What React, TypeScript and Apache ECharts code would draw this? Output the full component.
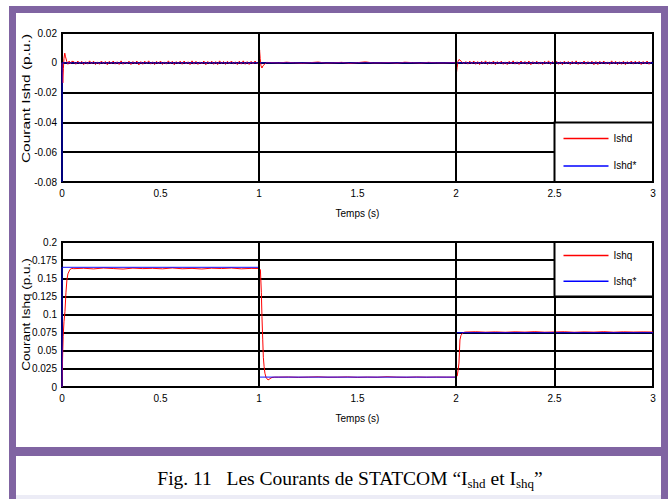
import React, { useEffect, useRef } from 'react';
import * as echarts from 'echarts';

// ---------- axes ----------
const xTickLabels = ['0', '0.5', '1', '1.5', '2', '2.5', '3'];
const xMin = 0, xMax = 3, xStep = 0.5;
const ishdMin = -0.08, ishdMax = 0.02, ishdStep = 0.02;
const ishqMin = 0, ishqMax = 0.2, ishqStep = 0.025;
const verticalGridTimes = [1, 2, 2.5];

// ---------- Ishd* (reference) ----------
const ishdRefT = [0, 0.0005, 3];
const ishdRefV = [-0.08, 0, 0];

// ---------- Ishd (measured) ----------
const ishdStartT = [0, 0.002, 0.004, 0.007, 0.01, 0.014, 0.018, 0.024, 0.03, 0.036, 0.042, 0.05];
const ishdStartV = [0, -0.006, -0.0135, -0.004, 0.003, 0.0065, 0.004, 0.001, -0.001, 0.0012, -0.0008, 0.001];
const ishdNoise1Start = 0.06, ishdNoise1Step = 0.01;
const ishdNoise1V = [
  0.0008, -0.0010, 0.0012, -0.0006, 0.0010, -0.0012, 0.0007, -0.0009, 0.0013, -0.0008,
  0.0011, -0.0012, 0.0006, -0.0010, 0.0012, -0.0007, 0.0009, -0.0013, 0.0010, -0.0006,
  0.0012, -0.0009, 0.0007, -0.0011, 0.0013, -0.0010, 0.0006, -0.0008, 0.0011, -0.0012,
  0.0009, -0.0007, 0.0012, -0.0014, 0.0008, -0.0010, 0.0011, -0.0006, 0.0013, -0.0009,
  0.0007, -0.0012, 0.0010, -0.0008, 0.0012, -0.0011, 0.0006, -0.0009, 0.0013, -0.0007,
  0.0010, -0.0013, 0.0008, -0.0006, 0.0011, -0.0010, 0.0012, -0.0008, 0.0007, -0.0012,
  0.0013, -0.0009, 0.0010, -0.0011, 0.0006, -0.0008, 0.0012, -0.0013, 0.0009, -0.0007,
  0.0011, -0.0010, 0.0008, -0.0012, 0.0013, -0.0006, 0.0009, -0.0011, 0.0010, -0.0008,
  0.0012, -0.0007, 0.0006, -0.0012, 0.0011, -0.0009, 0.0013, -0.0010, 0.0008, -0.0011,
  0.0010, -0.0008, 0.0012, -0.0006,
];
const ishdStep1T = [1.0, 1.003, 1.006, 1.01, 1.015, 1.02, 1.03, 1.04, 1.05];
const ishdStep1V = [0.0002, 0.0087, 0.003, -0.002, -0.0035, -0.002, -0.0008, 0.0003, 0.0001];
const ishdNoise2Start = 1.06, ishdNoise2Step = 0.04;
const ishdNoise2V = [
  0.0002, -0.0001, 0.0004, 0, -0.0003, 0.0001, 0.0005, -0.0002, 0, 0.0003, -0.0004, 0.0001,
  0.0006, -0.0001, 0, 0.0002, -0.0003, 0.0004, 0.0001, -0.0002, 0.0003, 0, -0.0001, 0.0002,
];
const ishdStep2T = [2.0, 2.003, 2.006, 2.01, 2.015, 2.02, 2.03, 2.04, 2.05];
const ishdStep2V = [0, -0.006, -0.003, 0.001, 0.0022, 0.0018, 0.0005, -0.0006, 0.0008];
const ishdNoise3Start = 2.06, ishdNoise3Step = 0.01;
const ishdNoise3V = [
  -0.0009, 0.0011, -0.0007, 0.0012, -0.0010, 0.0008, -0.0012, 0.0010, -0.0006, 0.0013,
  -0.0011, 0.0007, -0.0009, 0.0012, -0.0013, 0.0008, -0.0007, 0.0011, -0.0010, 0.0006,
  -0.0012, 0.0010, -0.0008, 0.0013, -0.0009, 0.0007, -0.0011, 0.0012, -0.0006, 0.0009,
  -0.0010, 0.0012, -0.0013, 0.0008, -0.0007, 0.0011, -0.0009, 0.0006, -0.0012, 0.0010,
  -0.0008, 0.0013, -0.0011, 0.0009, -0.0006, 0.0012, -0.0010, 0.0007, -0.0013, 0.0011,
  -0.0007, 0.0009, -0.0012, 0.0010, -0.0008, 0.0013, -0.0011, 0.0006, -0.0009, 0.0012,
  -0.0010, 0.0008, -0.0006, 0.0011, -0.0013, 0.0009, -0.0012, 0.0010, -0.0007, 0.0012,
  -0.0009, 0.0006, -0.0011, 0.0013, -0.0008, 0.0010, -0.0012, 0.0007, -0.0010, 0.0011,
  -0.0013, 0.0008, -0.0007, 0.0012, -0.0009, 0.0011, -0.0006, 0.0010, -0.0012, 0.0009,
  -0.0008, 0.0012, -0.0010, 0.0007,
];

// ---------- Ishq* (reference) ----------
const ishqRefT = [0, 0.0005, 1.0, 1.0005, 2.0, 2.0005, 3];
const ishqRefV = [0, 0.165, 0.165, 0.0135, 0.0135, 0.075, 0.075];

// ---------- Ishq (measured) ----------
const ishqStartT = [0, 0.003, 0.006, 0.01, 0.015, 0.02, 0.025, 0.03, 0.04, 0.05];
const ishqStartV = [0, 0.04, 0.07, 0.09, 0.104, 0.13, 0.148, 0.156, 0.162, 0.1635];
const ishqNoise1Start = 0.06, ishqNoise1Step = 0.05;
const ishqNoise1V = [
  0.1632, 0.1638, 0.1629, 0.1641, 0.1634, 0.1627, 0.1640, 0.1633, 0.1637, 0.1630,
  0.1642, 0.1631, 0.1636, 0.1628, 0.1639, 0.1634, 0.1641, 0.1630, 0.1636,
];
const ishqStep1T = [1.0, 1.007, 1.012, 1.015, 1.019, 1.022, 1.026, 1.03, 1.036, 1.046, 1.056, 1.066, 1.08];
const ishqStep1V = [0.1635, 0.162, 0.13, 0.097, 0.065, 0.041, 0.028, 0.019, 0.013, 0.0097, 0.0115, 0.0132, 0.0136];
const ishqNoise2Start = 1.1, ishqNoise2Step = 0.05;
const ishqNoise2V = [
  0.0136, 0.0138, 0.0134, 0.0137, 0.0140, 0.0135, 0.0136, 0.0139, 0.0134,
  0.0137, 0.0135, 0.0141, 0.0136, 0.0134, 0.0138, 0.0135, 0.0137, 0.0136,
];
const ishqStep2T = [1.995, 2.0, 2.006, 2.01, 2.015, 2.02, 2.025, 2.03, 2.036, 2.045];
const ishqStep2V = [0.0136, 0.0136, 0.015, 0.022, 0.033, 0.065, 0.071, 0.073, 0.075, 0.0757];
const ishqNoise3Start = 2.05, ishqNoise3Step = 0.05;
const ishqNoise3V = [
  0.0758, 0.0762, 0.0756, 0.0760, 0.0755, 0.0761, 0.0757, 0.0763, 0.0756, 0.0759,
  0.0762, 0.0755, 0.0760, 0.0757, 0.0763, 0.0756, 0.0761, 0.0758, 0.0760, 0.0758,
];

const legendTop = ['Ishd', 'Ishd*'];
const legendBottom = ['Ishq', 'Ishq*'];
const yNameTop = 'Courant Ishd (p.u.)';
const yNameBottom = 'Courant Ishq (p.u.)';
const xName = 'Temps (s)';

const pairs = (t: number[], v: number[]) => t.map((ti, i) => [ti, v[i]]);
const sampled = (start: number, step: number, v: number[]) =>
  v.map((vi, i) => [+(start + i * step).toFixed(4), vi]);

const ishdData = [
  ...pairs(ishdStartT, ishdStartV),
  ...sampled(ishdNoise1Start, ishdNoise1Step, ishdNoise1V),
  ...pairs(ishdStep1T, ishdStep1V),
  ...sampled(ishdNoise2Start, ishdNoise2Step, ishdNoise2V),
  ...pairs(ishdStep2T, ishdStep2V),
  ...sampled(ishdNoise3Start, ishdNoise3Step, ishdNoise3V),
];
const ishqData = [
  ...pairs(ishqStartT, ishqStartV),
  ...sampled(ishqNoise1Start, ishqNoise1Step, ishqNoise1V),
  ...pairs(ishqStep1T, ishqStep1V),
  ...sampled(ishqNoise2Start, ishqNoise2Step, ishqNoise2V),
  ...pairs(ishqStep2T, ishqStep2V),
  ...sampled(ishqNoise3Start, ishqNoise3Step, ishqNoise3V),
];

const PURPLE = '#8064A2';
const SANS = '"Liberation Sans", Arial, sans-serif';
const SERIF = '"Liberation Serif", "Times New Roman", serif';
const RED = '#ff0000';
const BLUE = '#0000ff';

export default function App() {
  const ref = useRef<HTMLDivElement>(null);
  useEffect(() => {
    if (!ref.current) return;
    const chart = echarts.init(ref.current, undefined, { renderer: 'svg' });

    const xAxisBase = (gridIndex: number) => ({
      type: 'value',
      gridIndex,
      min: xMin,
      max: xMax,
      interval: xStep,
      name: xName,
      nameLocation: 'middle',
      nameGap: 26,
      nameTextStyle: { fontFamily: SANS, fontSize: 10, color: '#000' },
      axisLine: { show: false },
      axisTick: { show: false },
      splitLine: { show: false },
      axisLabel: {
        fontFamily: SANS,
        fontSize: 10,
        color: '#000',
        margin: 6,
        formatter: (v: number) => xTickLabels[Math.round((v - xMin) / xStep)] ?? String(v),
      },
    });
    const yAxisBase = (gridIndex: number, min: number, max: number, interval: number) => ({
      type: 'value',
      gridIndex,
      min,
      max,
      interval,
      axisLine: { show: false },
      axisTick: { show: false },
      splitLine: { show: true, lineStyle: { color: '#000', width: 2 } },
      axisLabel: {
        fontFamily: SANS,
        fontSize: 10,
        color: '#000',
        margin: 5,
        formatter: (v: number) => String(+v.toFixed(4)),
      },
    });

    const gridMarks = (xi: number) => ({
      type: 'line',
      name: '',
      xAxisIndex: xi,
      yAxisIndex: xi,
      z: 1,
      data: [[0, null]],
      showSymbol: false,
      silent: true,
      lineStyle: { width: 0 },
      markLine: {
        silent: true,
        symbol: ['none', 'none'],
        label: { show: false },
        lineStyle: { color: '#000', width: 2, type: 'solid' },
        data: verticalGridTimes.map((t) => ({ xAxis: t })),
      },
    });

    const lineSeries = (name: string, data: any[], color: string, width: number, xi: number, z: number, opacity = 1) => ({
      type: 'line',
      name,
      xAxisIndex: xi,
      yAxisIndex: xi,
      data,
      z,
      showSymbol: false,
      symbol: 'none',
      silent: true,
      lineStyle: { color, width, opacity },
      itemStyle: { color },
    });

    const legendBase = (data: string[]) => ({
      data,
      orient: 'vertical',
      selectedMode: false,
      icon: 'rect',
      itemWidth: 45,
      itemHeight: 1.5,
      padding: 0,
      z: 30,
      textStyle: { fontFamily: SANS, fontSize: 10, color: '#000', lineHeight: 14 },
    });

    const option: any = {
      animation: false,
      backgroundColor: '#fff',
      grid: [
        { left: 62, top: 33, width: 591, height: 149, show: true, borderColor: '#000', borderWidth: 2, backgroundColor: '#fff' },
        { left: 62, top: 242, width: 591, height: 145, show: true, borderColor: '#000', borderWidth: 2, backgroundColor: '#fff' },
      ],
      xAxis: [xAxisBase(0), xAxisBase(1)],
      yAxis: [
        yAxisBase(0, ishdMin, ishdMax, ishdStep),
        yAxisBase(1, ishqMin, ishqMax, ishqStep),
      ],
      series: [
        gridMarks(0),
        gridMarks(1),
        lineSeries('Ishd', ishdData, RED, 1, 0, 3),
        lineSeries('Ishd*', pairs(ishdRefT, ishdRefV), BLUE, 1.3, 0, 4, 0.75),
        lineSeries('Ishq', ishqData, RED, 1, 1, 3),
        lineSeries('Ishq*', pairs(ishqRefT, ishqRefV), BLUE, 1.3, 1, 4, 0.75),
      ],
    };
    chart.setOption(option);

    // legend boxes aligned with the grid cells they cover
    const tl = chart.convertToPixel({ gridIndex: 0 }, [2.5, -0.04]) as number[];
    const br = chart.convertToPixel({ gridIndex: 0 }, [3, -0.08]) as number[];
    const tl2 = chart.convertToPixel({ gridIndex: 1 }, [2.5, 0.2]) as number[];
    const br2 = chart.convertToPixel({ gridIndex: 1 }, [3, 0.125]) as number[];
    const mid1 = chart.convertToPixel({ gridIndex: 0 }, [0, (ishdMin + ishdMax) / 2]) as number[];
    const mid2 = chart.convertToPixel({ gridIndex: 1 }, [0, (ishqMin + ishqMax) / 2]) as number[];

    const h1 = br[1] - tl[1];
    const h2 = br2[1] - tl2[1];
    const c1a = tl[1] + h1 * 0.27, c1b = tl[1] + h1 * 0.73;
    const c2a = tl2[1] + h2 * 0.25, c2b = tl2[1] + h2 * 0.72;

    const yName = (text: string, cy: number, stretch: number) => ({
      type: 'text',
      z: 25,
      silent: true,
      x: 27,
      y: cy,
      rotation: Math.PI / 2,
      scaleX: stretch,
      style: { text, align: 'center', verticalAlign: 'middle', fontFamily: SANS, fontSize: 10, fill: '#000' },
    });

    chart.setOption({
      legend: [
        { ...legendBase(legendTop), left: tl[0] + 9, top: c1a - 7, itemGap: c1b - c1a - 14 },
        { ...legendBase(legendBottom), left: tl2[0] + 9, top: c2a - 7, itemGap: c2b - c2a - 14 },
      ],
      graphic: [
        { type: 'rect', z: 20, silent: true, shape: { x: tl[0], y: tl[1], width: br[0] - tl[0], height: h1 }, style: { fill: '#fff', stroke: '#000', lineWidth: 2 } },
        { type: 'rect', z: 20, silent: true, shape: { x: tl2[0], y: tl2[1], width: br2[0] - tl2[0], height: h2 }, style: { fill: '#fff', stroke: '#000', lineWidth: 2 } },
        yName(yNameTop, mid1[1] - 9, 1.55),
        yName(yNameBottom, mid2[1], 1.35),
        // purple frame
        { type: 'rect', z: 25, silent: true, shape: { x: 9, y: 6, width: 7, height: 493 }, style: { fill: PURPLE } },
        { type: 'rect', z: 25, silent: true, shape: { x: 661, y: 6, width: 7, height: 493 }, style: { fill: PURPLE } },
        { type: 'rect', z: 25, silent: true, shape: { x: 9, y: 6, width: 659, height: 7 }, style: { fill: PURPLE } },
        { type: 'rect', z: 25, silent: true, shape: { x: 9, y: 447, width: 659, height: 9 }, style: { fill: PURPLE } },
        { type: 'rect', z: 24, silent: true, shape: { x: 16, y: 495, width: 645, height: 4 }, style: { fill: '#ececf6' } },
        {
          type: 'text',
          z: 25,
          silent: true,
          style: {
            x: 350,
            y: 478,
            align: 'center',
            verticalAlign: 'middle',
            text: 'Fig. 11   Les Courants de STATCOM \u201cI{s|shd} et I{s|shq}\u201d',
            fontFamily: SERIF,
            fontSize: 19.5,
            fill: '#000',
            lineHeight: 24,
            rich: {
              s: { fontFamily: SERIF, fontSize: 13, fill: '#000', verticalAlign: 'bottom', lineHeight: 14, padding: [6, 0, 0, 0] },
            },
          },
        },
      ],
    });

    return () => chart.dispose();
  }, []);
  return <div ref={ref} style={{ position: 'absolute', left: 0, top: 0, width: 672, height: 499 }} />;
}
